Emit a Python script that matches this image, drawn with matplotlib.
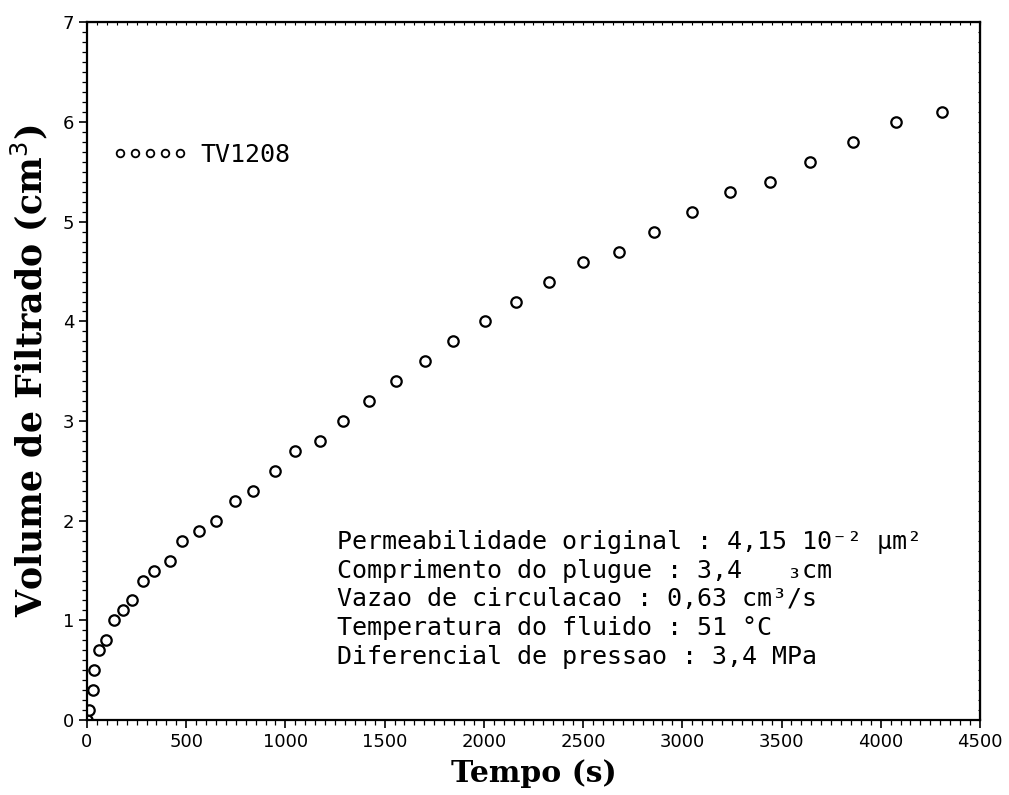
import matplotlib
matplotlib.use("Agg")
import matplotlib.pyplot as plt
from matplotlib.ticker import MultipleLocator
from matplotlib.lines import Line2D

tempo = [0, 8, 32, 37, 60, 96, 136, 180, 227, 284, 339, 416,
         479, 565, 648, 744, 838, 946, 1050, 1173, 1290, 1423, 1555, 1704, 1846,
         2004, 2164, 2330, 2500, 2682, 2858, 3047, 3242, 3443, 3646, 3860, 4078, 4308]
volume = [0.0, 0.1, 0.3, 0.5, 0.7, 0.8, 1.0, 1.1, 1.2, 1.4, 1.5, 1.6,
          1.8, 1.9, 2.0, 2.2, 2.3, 2.5, 2.7, 2.8, 3.0, 3.2, 3.4, 3.6, 3.8,
          4.0, 4.2, 4.4, 4.6, 4.7, 4.9, 5.1, 5.3, 5.4, 5.6, 5.8, 6.0, 6.1]
serie = "TV1208"
xticks = [0, 500, 1000, 1500, 2000, 2500, 3000, 3500, 4000, 4500]
yticks = [0, 1, 2, 3, 4, 5, 6, 7]
info = [
    "Permeabilidade original : 4,15 10\u207b\u00b2 \u00b5m\u00b2",
    "Comprimento do plugue : 3,4   \u2083cm",
    "Vazao de circulacao : 0,63 cm\u00b3/s",
    "Temperatura do fluido : 51 \u00b0C",
    "Diferencial de pressao : 3,4 MPa",
]

MONO = ["DejaVu Sans Mono", "DejaVu Sans"]

fig = plt.figure(figsize=(10.09, 7.95), dpi=100)
ax = fig.add_axes([0.0862, 0.0943, 0.885, 0.8774])
ax.plot(tempo, volume, linestyle="none", marker="o", markersize=7.5,
        markerfacecolor="white", markeredgecolor="black", markeredgewidth=1.6)
ax.set_xlim(0, 4500)
ax.set_ylim(0, 7)
ax.set_xticks(xticks)
ax.set_yticks(yticks)
ax.xaxis.set_minor_locator(MultipleLocator(50))
ax.yaxis.set_minor_locator(MultipleLocator(0.1))
ax.tick_params(which="both", direction="out", labelsize=13)
ax.tick_params(which="major", length=5.5, width=1.2)
ax.tick_params(which="minor", length=3.5, width=0.9)
for s in ax.spines.values():
    s.set_linewidth(1.6)

# tiny inward ticks on top and right
ax2 = ax.secondary_xaxis("top")
ax2.set_xticks(xticks)
ax2.xaxis.set_minor_locator(MultipleLocator(50))
ax2.tick_params(which="both", direction="in", length=1.8, width=0.8, labeltop=False)
ax3 = ax.secondary_yaxis("right")
ax3.set_yticks(yticks)
ax3.yaxis.set_minor_locator(MultipleLocator(0.1))
ax3.tick_params(which="both", direction="in", length=1.8, width=0.8, labelright=False)

ax.set_xlabel("Tempo (s)", family="DejaVu Serif", fontsize=21.5, fontweight="bold", labelpad=6)
ax.set_ylabel("Volume de Filtrado (cm$^3$)", family="DejaVu Serif", fontsize=25,
              fontweight="bold", labelpad=9)

h = Line2D([], [], linestyle="none", marker="o", markersize=5.5,
           markerfacecolor="white", markeredgecolor="black", markeredgewidth=1.3)
ax.legend([h], [serie], loc="center left", bbox_to_anchor=(0.0286, 0.81), numpoints=5,
          handlelength=3.0, handletextpad=0.5, borderpad=0, borderaxespad=0,
          frameon=False, prop={"family": MONO, "size": 18})

ypos = [0.245, 0.204, 0.163, 0.122, 0.080]
for txt, yy in zip(info, ypos):
    ax.text(0.28, yy, txt, transform=ax.transAxes, fontsize=18, family=MONO,
            va="baseline", ha="left")

fig.savefig("out.png", dpi=100)
